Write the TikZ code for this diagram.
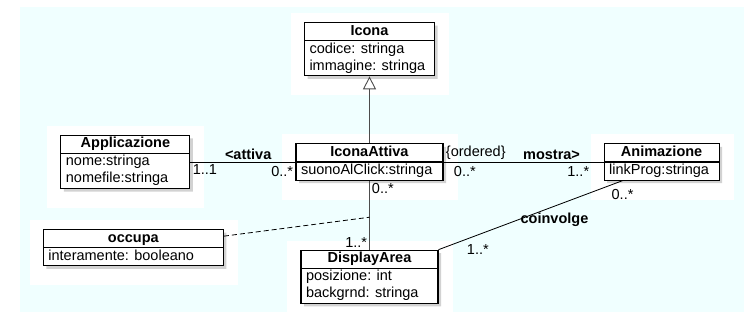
\documentclass[tikz,border=0pt]{standalone}
\usepackage{fontspec}
\setmainfont{Liberation Sans}
\usetikzlibrary{positioning,shapes.multipart,shadows,arrows.meta,backgrounds}
\definecolor{bgcyan}{RGB}{240,255,255}

\tikzset{
  cls/.style={rectangle split, rectangle split parts=2,
    rectangle split part align={center,left}, align=left,
    draw, line width=1.1pt, fill=white, inner xsep=5pt, inner ysep=0pt,
    drop shadow={shadow xshift=3pt, shadow yshift=-3pt, opacity=0.35}},
  mult/.style={inner sep=2pt, text=black},
  assoc/.style={inner sep=2pt, text=black, font=\fontsize{14.5}{17}\selectfont\bfseries},
}

\begin{document}
\begin{tikzpicture}[x=1pt, y=-1pt, font=\fontsize{14.5}{17}\selectfont]
  \useasboundingbox (0,0) rectangle (744,321);

  % Define nodes
  \node[cls, minimum width=147pt] at (369.5,162) (attiva)
    {\strut\textbf{IconaAttiva}\nodepart{two}\strut suonoAlClick:stringa};
  \node[cls, minimum width=130pt, above=67pt of attiva] (icona)
    {\strut\textbf{Icona}\nodepart{two}\strut codice: stringa\\\strut immagine: stringa};
  \node[cls, minimum width=129pt, left=105pt of attiva] (app)
    {\strut\textbf{Applicazione}\nodepart{two}\strut nome:stringa\\\strut nomefile:stringa};
  \node[cls, minimum width=115pt, right=160pt of attiva] (anim)
    {\strut\textbf{Animazione}\nodepart{two}\strut linkProg:stringa};
  \node[cls, minimum width=137pt, below=69pt of attiva] (display)
    {\strut\textbf{DisplayArea}\nodepart{two}\strut posizione: int\\\strut backgrnd: stringa};
  \node[cls, minimum width=180pt, below=40pt of app, xshift=8pt] (occupa)
    {\strut\textbf{occupa}\nodepart{two}\strut interamente: booleano};

  % Background and white patches
  \begin{scope}[on background layer]
    \fill[bgcyan] (20,7) rectangle (744,312);
    \foreach \n in {icona,app,attiva,anim,occupa,display}
      \fill[white] ([shift={(-13,-9)}]\n.north west) rectangle ([shift={(14,19)}]\n.south east);
  \end{scope}

  % Connect the nodes
  \draw[black!70, line width=0.9pt, -{Triangle[open, length=13pt, width=13pt, fill=white]}]
    (attiva) -- (icona);
  \draw[line width=0.8pt] (app.east) -- (attiva.west)
    node[assoc, pos=0.55, above] {<attiva}
    node[mult, pos=0, below right] {1..1}
    node[mult, pos=1, below left, yshift=-2pt] {0..*};
  \draw[line width=0.8pt] (attiva.east) -- (anim.west)
    node[mult, pos=0, above right] {\{ordered\}}
    node[assoc, pos=0.675, above] {mostra>}
    node[mult, pos=0, below right, xshift=8pt, yshift=-2pt] {0..*}
    node[mult, pos=1, below left, xshift=-12pt, yshift=-2pt] {1..*};
  \draw[black!70, line width=0.9pt] (attiva) -- (display)
    node[mult, pos=0, below right] {0..*}
    node[mult, pos=1, above left] {1..*}
    coordinate[pos=0.53] (link);
  \draw[line width=0.8pt] (display.north east) -- ([xshift=19pt]anim.south west)
    node[assoc, pos=0.63, below=4pt] {coinvolge}
    node[mult, pos=0, right=26pt] {1..*}
    node[mult, pos=1, below=6pt] {0..*};
  \draw[dash pattern=on 5pt off 3pt, line width=0.8pt] ([yshift=-7pt]occupa.north east) -- (link);

\end{tikzpicture}
\end{document}
